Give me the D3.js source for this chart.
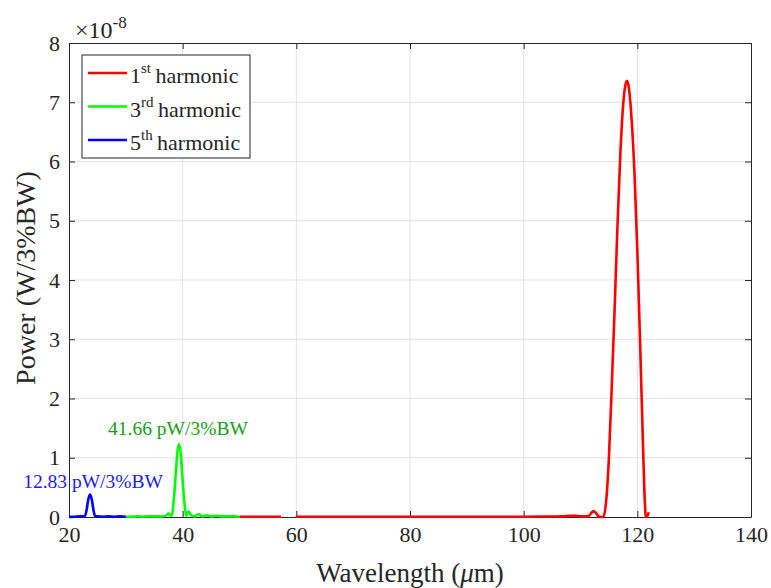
<!DOCTYPE html>
<html>
<head>
<meta charset="utf-8">
<script src="https://cdn.jsdelivr.net/npm/d3@7"></script>
<style>
  body { margin: 0; background: #fff; }
</style>
</head>
<body>
<div id="chart"></div>
<script>
// values in units of 1e-8 W/3%BW
const xTicks = [20, 40, 60, 80, 100, 120, 140];
const yTicks = [0, 1, 2, 3, 4, 5, 6, 7, 8];

const fifthX = [20, 21, 22, 22.8, 23.1, 23.4, 23.7, 24.0, 24.3, 24.6, 25, 26, 27, 28, 29, 30];
const fifthY = [0, 0.005, 0.01, 0.015, 0.12, 0.3, 0.38, 0.3, 0.12, 0.015, 0.01, 0.005, 0.01, 0.005, 0.01, 0.005];

const thirdX = [30, 31, 32, 33, 34, 35, 36, 37, 37.5, 37.9, 38.1, 38.4, 38.8, 39.1, 39.35, 39.6, 39.9, 40.3, 40.6, 41.0, 41.5, 42.1, 42.8, 43.5, 44.2, 45, 46, 47, 48, 49, 50];
const thirdY = [0, 0.005, 0.01, 0.005, 0.01, 0.01, 0.01, 0.02, 0.06, 0.02, 0.03, 0.25, 0.75, 1.12, 1.23, 1.12, 0.75, 0.25, 0.02, 0.09, 0.03, 0.01, 0.05, 0.01, 0.03, 0.01, 0.02, 0.01, 0.01, 0.01, 0.005];

// null marks the small break in the trace near 58 um
const firstX = [50, 52, 54, 56, 57.3, 57.5, 59.9, 62, 66, 70, 75, 80, 85, 90, 95, 100, 104, 107, 108, 109, 110, 111, 111.5, 112.0, 112.3, 112.7, 113.2, 113.6, 114.0, 114.5, 115.0, 115.5, 116.0, 116.5, 117.0, 117.5, 118.0, 118.2, 118.5, 119.0, 119.5, 120.0, 120.5, 121.0, 121.3, 121.5, 121.8, 122.0];
const firstY = [0.005, 0.005, 0.005, 0.005, 0.005, null, 0.005, 0.005, 0.005, 0.005, 0.005, 0.005, 0.005, 0.005, 0.005, 0.005, 0.008, 0.01, 0.02, 0.02, 0.01, 0.01, 0.02, 0.08, 0.1, 0.07, 0.01, 0.0, 0.0, 0.25, 1.0, 2.2, 3.5, 4.9, 6.1, 6.95, 7.33, 7.36, 7.25, 6.7, 5.8, 4.5, 2.9, 1.2, 0.3, 0.0, 0.02, 0.08];

const width = 771, height = 588;
const margin = {left: 69, right: 20, top: 43, bottom: 71};
const serif = '"Liberation Serif", "Times New Roman", serif';

const svg = d3.select('#chart').append('svg')
  .attr('width', width)
  .attr('height', height);

const x = d3.scaleLinear().domain([20, 140]).range([margin.left, width - margin.right]);
const y = d3.scaleLinear().domain([0, 8]).range([height - margin.bottom, margin.top]);

// grid
svg.append('g').selectAll('line.gx')
  .data(xTicks.slice(1, -1)).enter().append('line')
  .attr('x1', d => x(d)).attr('x2', d => x(d))
  .attr('y1', y(0)).attr('y2', y(8))
  .attr('stroke', '#e3e3e3').attr('stroke-width', 1);
svg.append('g').selectAll('line.gy')
  .data(yTicks.slice(1, -1)).enter().append('line')
  .attr('y1', d => y(d)).attr('y2', d => y(d))
  .attr('x1', x(20)).attr('x2', x(140))
  .attr('stroke', '#e3e3e3').attr('stroke-width', 1);

// axes
const xAxis = svg.append('g')
  .attr('transform', `translate(0,${y(0)})`)
  .call(d3.axisBottom(x).tickValues(xTicks).tickSizeInner(-6).tickSizeOuter(0).tickPadding(9));
const xTop = svg.append('g')
  .attr('transform', `translate(0,${y(8)})`)
  .call(d3.axisTop(x).tickValues(xTicks).tickSizeInner(-6).tickSizeOuter(0).tickFormat(''));
const yAxis = svg.append('g')
  .attr('transform', `translate(${x(20)},0)`)
  .call(d3.axisLeft(y).tickValues(yTicks).tickSizeInner(-6).tickSizeOuter(0).tickPadding(9));
const yRight = svg.append('g')
  .attr('transform', `translate(${x(140)},0)`)
  .call(d3.axisRight(y).tickValues(yTicks).tickSizeInner(-6).tickSizeOuter(0).tickFormat(''));

[xAxis, xTop, yAxis, yRight].forEach(g => {
  g.attr('font-family', null);
  g.select('.domain').attr('stroke', '#262626').attr('stroke-width', 1);
  g.selectAll('.tick line').attr('stroke', '#262626');
  g.selectAll('.tick text')
    .style('font-family', serif).style('font-size', '22px').style('fill', '#262626');
});

// curves
const line = d3.line()
  .defined(d => d[1] !== null)
  .x(d => x(d[0])).y(d => y(d[1]))
  .curve(d3.curveMonotoneX);

const series = [
  {xs: firstX, ys: firstY, color: '#ff0000'},
  {xs: thirdX, ys: thirdY, color: '#00ff00'},
  {xs: fifthX, ys: fifthY, color: '#0000ff'}
];
series.forEach(s => {
  svg.append('path')
    .datum(s.xs.map((v, i) => [v, s.ys[i]]))
    .attr('d', line)
    .attr('fill', 'none')
    .attr('stroke', s.color)
    .attr('stroke-width', 2.6)
    .attr('stroke-linejoin', 'round');
});

function txt(sel) {
  return sel.style('font-family', serif).style('fill', '#262626');
}

// peak labels
txt(svg.append('text')).attr('x', x(39.35) - 1).attr('y', y(1.23) - 9)
  .attr('text-anchor', 'middle').style('font-size', '19.5px')
  .style('fill', '#13a013').text('41.66 pW/3%BW');
txt(svg.append('text')).attr('x', x(23.7) + 3).attr('y', y(0.38) - 6)
  .attr('text-anchor', 'middle').style('font-size', '19.5px')
  .style('fill', '#1a1aff').text('12.83 pW/3%BW');

// exponent
const ex = txt(svg.append('text')).attr('x', 75).attr('y', 38).style('font-size', '24px');
ex.append('tspan').text('\u00d710');
ex.append('tspan').attr('dy', -10).style('font-size', '17px').text('-8');

// axis titles
txt(svg.append('text')).attr('x', x(80)).attr('y', 582)
  .attr('text-anchor', 'middle').style('font-size', '27px')
  .html('Wavelength (<tspan font-style="italic">\u03bc</tspan>m)');
txt(svg.append('text'))
  .attr('transform', `translate(35,${y(4) - 2}) rotate(-90)`)
  .attr('text-anchor', 'middle').style('font-size', '28px')
  .text('Power (W/3%BW)');

// legend
const legendNum = ['1', '3', '5'];
const legendSup = ['st', 'rd', 'th'];
const lg = svg.append('g');
lg.append('rect').attr('x', 82).attr('y', 55).attr('width', 168).attr('height', 103)
  .attr('fill', '#fff').attr('stroke', '#262626').attr('stroke-width', 1);
series.forEach((s, i) => {
  const ly = 73 + i * 33.5;
  lg.append('line').attr('x1', 88).attr('x2', 127).attr('y1', ly).attr('y2', ly)
    .attr('stroke', s.color).attr('stroke-width', 2.6);
  const t = txt(lg.append('text')).attr('x', 130).attr('y', ly + 10).style('font-size', '22px');
  t.append('tspan').text(legendNum[i]);
  t.append('tspan').attr('dy', -10).style('font-size', '15px').text(legendSup[i]);
  t.append('tspan').attr('dy', 10).text('\u2009harmonic');
});
</script>
</body>
</html>
